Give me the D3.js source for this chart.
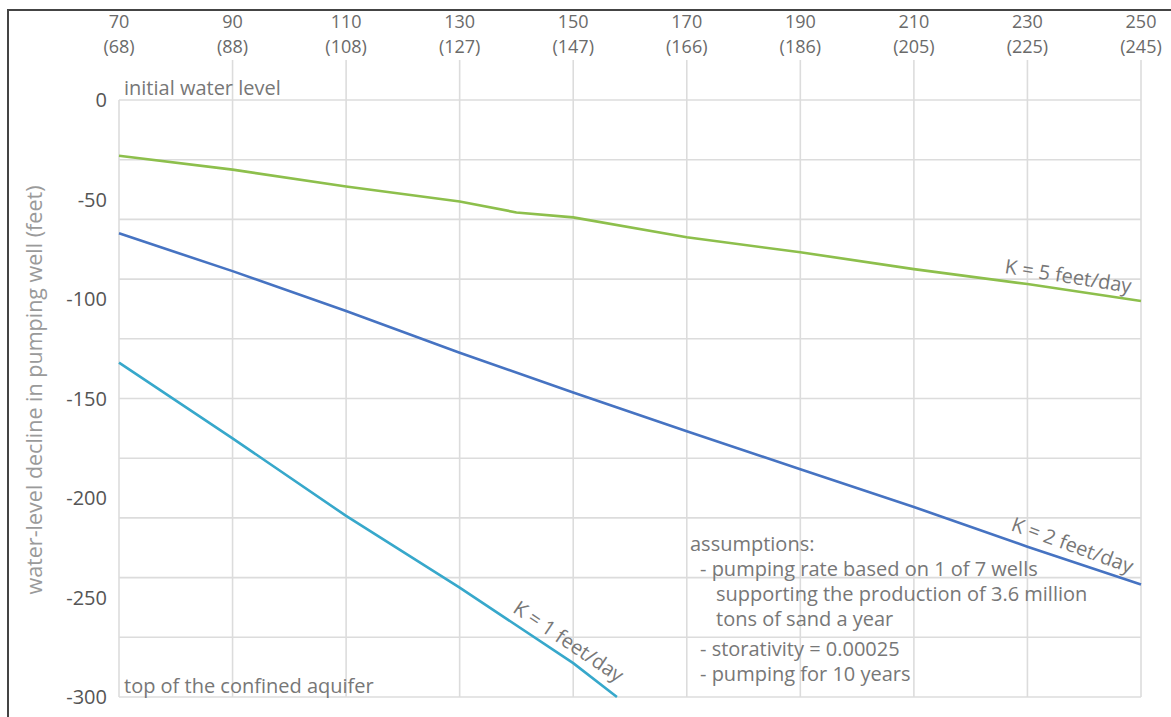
<!DOCTYPE html>
<html>
<head>
<meta charset="utf-8">
<script src="https://cdn.jsdelivr.net/npm/d3@7"></script>
<style>
  body { margin: 0; background: #fff; }
  text { font-family: "Open Sans", "Noto Sans", sans-serif; }
</style>
</head>
<body>
<svg id="chart" width="1171" height="717"></svg>
<script>
// x ticks: top line value, bottom line in brackets
var xTicks = [70, 90, 110, 130, 150, 170, 190, 210, 230, 250];
var xSub = [68, 88, 108, 127, 147, 166, 186, 205, 225, 245];
var yTicks = [0, -50, -100, -150, -200, -250, -300];
var yGrid = [0, -30, -60, -90, -120, -150, -180, -210, -240, -270, -300];

// water-level decline
var k5 = [[70, -28], [90, -35], [110, -43.5], [130, -51], [140, -56.5], [150, -59], [170, -69], [190, -76.5], [210, -85], [230, -92.5], [250, -101]];
var k2 = [[70, -67], [90, -86], [110, -106], [130, -127], [150, -147], [170, -166.5], [190, -185.5], [210, -204.5], [230, -224.5], [250, -243.5]];
var k1 = [[70, -132], [90, -170], [110, -209], [130, -245], [150, -283], [157.7, -300]];

var notes = ["assumptions:", "- pumping rate based on 1 of 7 wells", "supporting the production of 3.6 million", "tons of sand a year", "- storativity = 0.00025", "- pumping for 10 years"];

var svg = d3.select("#chart");
var x = d3.scaleLinear().domain([70, 250]).range([119, 1141]);
var y = d3.scaleLinear().domain([0, -300]).range([100, 697]);

// frame (top and left edge of the cropped figure)
svg.append("path").attr("d", "M8,717V10H1171").attr("fill", "none")
  .attr("stroke", "#444").attr("stroke-width", 2);

// grid
svg.append("g").selectAll("line").data(yGrid).enter().append("line")
  .attr("x1", x(70)).attr("x2", x(250))
  .attr("y1", function(d){ return y(d); }).attr("y2", function(d){ return y(d); })
  .attr("stroke", "#dcdcdc").attr("stroke-width", 1.6);
svg.append("g").selectAll("line").data(xTicks).enter().append("line")
  .attr("x1", function(d){ return x(d); }).attr("x2", function(d){ return x(d); })
  .attr("y1", function(d){ return d == 70 ? y(0) : 60; }).attr("y2", y(-300))
  .attr("stroke", "#dcdcdc").attr("stroke-width", 1.6);

// top tick labels
var xl = svg.append("g").attr("fill", "#6a6a6a").attr("font-size", 18).attr("text-anchor", "middle");
xl.selectAll("text.a").data(xTicks).enter().append("text").attr("class", "a")
  .attr("x", function(d){ return x(d); }).attr("y", 28).text(function(d){ return d; });
xl.selectAll("text.b").data(xSub).enter().append("text").attr("class", "b")
  .attr("x", function(d, i){ return x(xTicks[i]); }).attr("y", 52.8).text(function(d){ return "(" + d + ")"; });

// left tick labels
svg.append("g").attr("fill", "#555").attr("font-size", 20).attr("text-anchor", "end")
  .selectAll("text").data(yTicks).enter().append("text")
  .attr("x", 107).attr("y", function(d){ return y(d) + 7; }).text(function(d){ return d; });

svg.append("text").attr("transform", "translate(42,390) rotate(-90)")
  .attr("text-anchor", "middle").attr("fill", "#9a9a9a").attr("font-size", 21.5)
  .text("water-level decline in pumping well (feet)");

svg.append("text").attr("x", 124).attr("y", 95).attr("fill", "#777").attr("font-size", 20).text("initial water level");
svg.append("text").attr("x", 124).attr("y", 693).attr("fill", "#777").attr("font-size", 20).text("top of the confined aquifer");

// lines
var line = d3.line().x(function(d){ return x(d[0]); }).y(function(d){ return y(d[1]); });
var series = [{d: k5, c: "#8dbf4c"}, {d: k2, c: "#4673c2"}, {d: k1, c: "#37a8cb"}];
series.forEach(function(s){
  svg.append("path").datum(s.d).attr("d", line).attr("fill", "none")
    .attr("stroke", s.c).attr("stroke-width", 2.6);
});

// line labels
var labels = [
  {t: "K = 5 feet/day", x: 237, y: -92, r: 9},
  {t: "K = 2 feet/day", x: 237.5, y: -227, r: 20},
  {t: "K = 1 feet/day", x: 148.5, y: -275, r: 34}
];
svg.append("g").attr("fill", "#777").attr("font-size", 20).attr("text-anchor", "middle")
  .selectAll("text").data(labels).enter().append("text")
  .attr("transform", function(d){ return "translate(" + x(d.x) + "," + y(d.y) + ") rotate(" + d.r + ")"; })
  .text(function(d){ return d.t; });

// assumptions block
var nx = [690, 700, 716, 716, 700, 700];
var ny = [551, 576, 601, 626, 656, 681];
svg.append("g").attr("fill", "#777").attr("font-size", 20)
  .selectAll("text").data(notes).enter().append("text")
  .attr("x", function(d, i){ return nx[i]; }).attr("y", function(d, i){ return ny[i]; })
  .text(function(d){ return d; });
</script>
</body>
</html>
